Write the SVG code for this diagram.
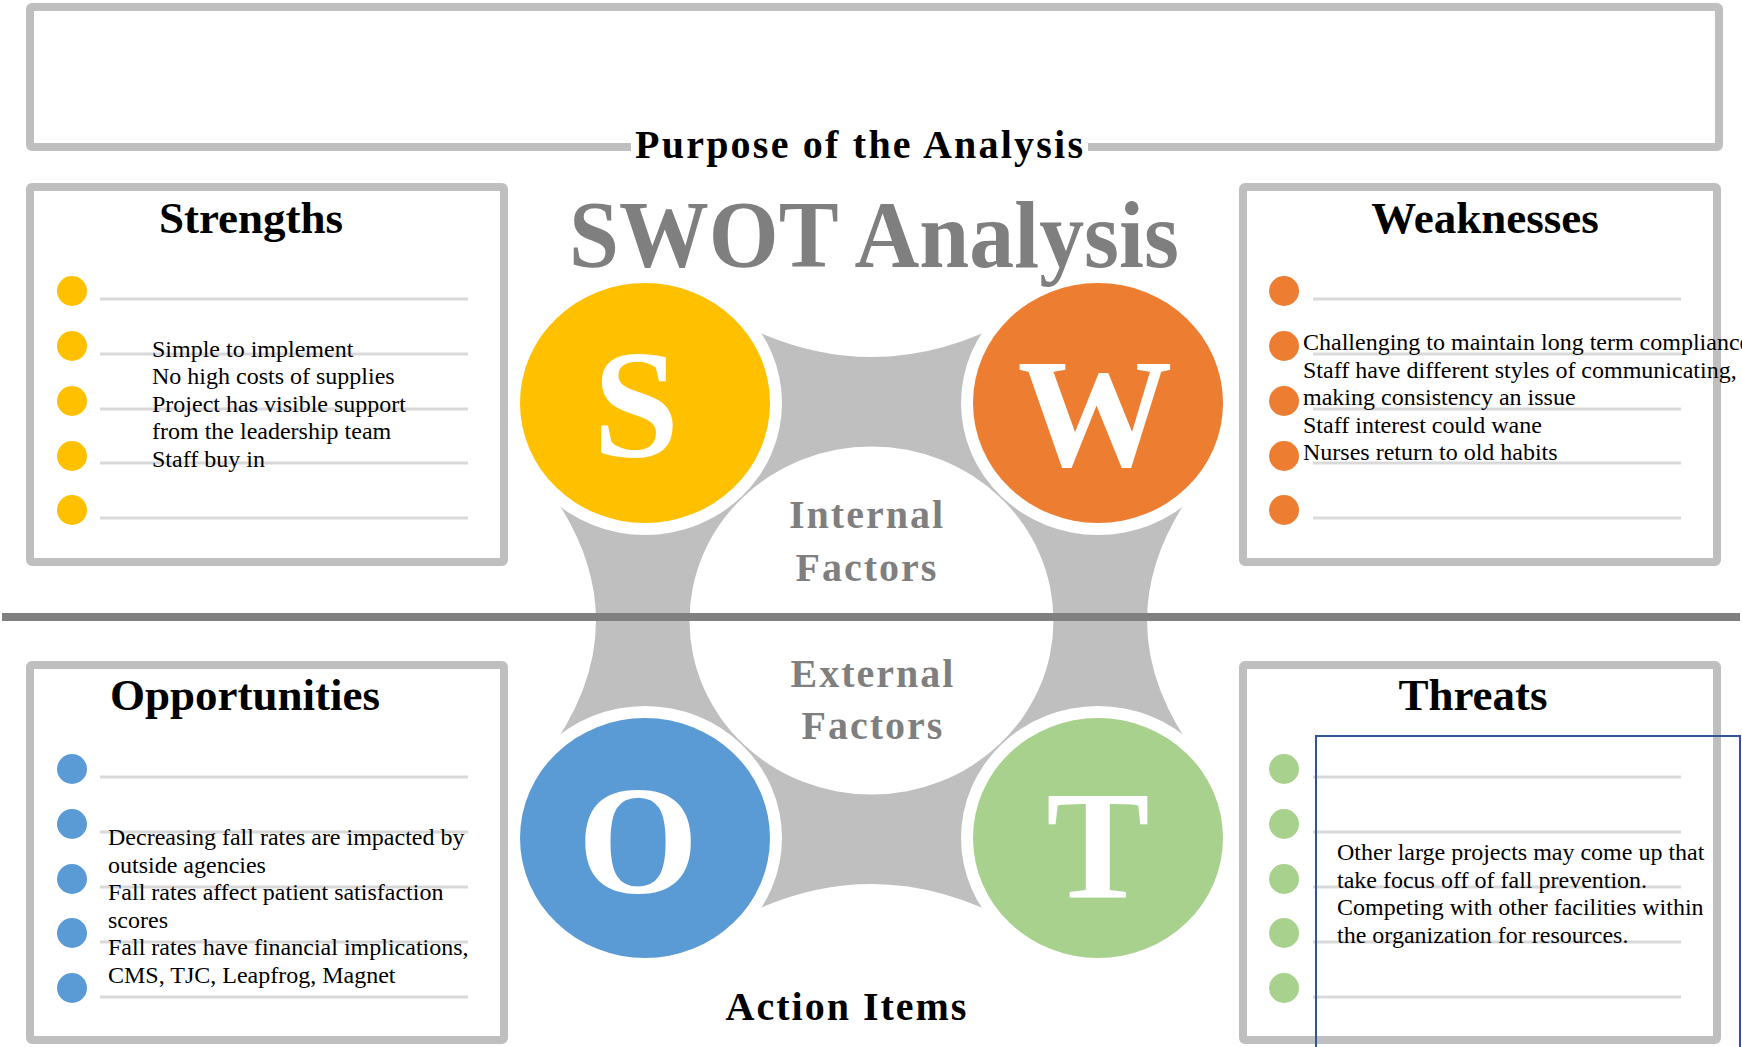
<svg xmlns="http://www.w3.org/2000/svg" width="1742" height="1047" viewBox="0 0 1742 1047">
  <style>
    .frame { fill: #ffffff; stroke: #bfbfbf; stroke-width: 8; }
    .rule { stroke: #d9d9d9; stroke-width: 3; }
    .head { font-family: "Liberation Serif", "Times New Roman", serif; font-weight: bold; font-size: 45px; fill: #000000; text-anchor: middle; }
    .label { font-family: "Liberation Serif", "Times New Roman", serif; font-weight: bold; font-size: 40px; fill: #000000; text-anchor: middle; letter-spacing: 2px; }
    .factor { font-family: "Liberation Serif", "Times New Roman", serif; font-weight: bold; font-size: 40px; fill: #7f7f7f; text-anchor: middle; letter-spacing: 2px; }
    .body { font-family: "Liberation Serif", "Times New Roman", serif; font-size: 24px; fill: #000000; }
    .letter { font-family: "Liberation Serif", "Times New Roman", serif; font-weight: bold; font-size: 155px; fill: #ffffff; text-anchor: middle; }
    .ring { fill: #ffffff; }
    .s { fill: #ffc000; }
    .w { fill: #ed7d31; }
    .o { fill: #5b9bd5; }
    .t { fill: #a9d18e; }
  </style>

  <rect width="1742" height="1047" fill="#ffffff"/>

  <!-- Purpose box -->
  <g id="purpose">
    <rect class="frame" x="30" y="7" width="1689" height="140" rx="2"/>
    <rect x="631" y="126" width="457" height="44" fill="#ffffff"/>
    <text class="label" x="860" y="158" textLength="450" lengthAdjust="spacing">Purpose of the Analysis</text>
  </g>

  <!-- Strengths -->
  <g id="strengths">
    <rect class="frame" x="30" y="187" width="474" height="375" rx="2"/>
    <text class="head" x="251" y="233">Strengths</text>
    <g class="s">
      <circle cx="72" cy="291" r="15"/>
      <circle cx="72" cy="346" r="15"/>
      <circle cx="72" cy="401" r="15"/>
      <circle cx="72" cy="456" r="15"/>
      <circle cx="72" cy="510" r="15"/>
    </g>
    <g class="rule">
      <line x1="100" y1="299" x2="468" y2="299"/>
      <line x1="100" y1="354" x2="468" y2="354"/>
      <line x1="100" y1="409" x2="468" y2="409"/>
      <line x1="100" y1="463" x2="468" y2="463"/>
      <line x1="100" y1="518" x2="468" y2="518"/>
    </g>
    <text class="body">
      <tspan x="152" y="357">Simple to implement</tspan>
      <tspan x="152" y="384">No high costs of supplies</tspan>
      <tspan x="152" y="411.5">Project has visible support</tspan>
      <tspan x="152" y="439">from the leadership team</tspan>
      <tspan x="152" y="466.5">Staff buy in</tspan>
    </text>
  </g>

  <!-- Weaknesses -->
  <g id="weaknesses">
    <rect class="frame" x="1243" y="187" width="474" height="375" rx="2"/>
    <text class="head" x="1485" y="233">Weaknesses</text>
    <g class="w">
      <circle cx="1284" cy="291" r="15"/>
      <circle cx="1284" cy="346" r="15"/>
      <circle cx="1284" cy="401" r="15"/>
      <circle cx="1284" cy="456" r="15"/>
      <circle cx="1284" cy="510" r="15"/>
    </g>
    <g class="rule">
      <line x1="1313" y1="299" x2="1681" y2="299"/>
      <line x1="1313" y1="354" x2="1681" y2="354"/>
      <line x1="1313" y1="409" x2="1681" y2="409"/>
      <line x1="1313" y1="463" x2="1681" y2="463"/>
      <line x1="1313" y1="518" x2="1681" y2="518"/>
    </g>
    <text class="body">
      <tspan x="1303" y="350">Challenging to maintain long term compliance</tspan>
      <tspan x="1303" y="378">Staff have different styles of communicating,</tspan>
      <tspan x="1303" y="405">making consistency an issue</tspan>
      <tspan x="1303" y="433">Staff interest could wane</tspan>
      <tspan x="1303" y="460">Nurses return to old habits</tspan>
    </text>
  </g>

  <!-- Opportunities -->
  <g id="opportunities">
    <rect class="frame" x="30" y="665" width="474" height="375" rx="2"/>
    <text class="head" x="245" y="710">Opportunities</text>
    <g class="o">
      <circle cx="72" cy="769" r="15"/>
      <circle cx="72" cy="824" r="15"/>
      <circle cx="72" cy="879" r="15"/>
      <circle cx="72" cy="933" r="15"/>
      <circle cx="72" cy="988" r="15"/>
    </g>
    <g class="rule">
      <line x1="100" y1="777" x2="468" y2="777"/>
      <line x1="100" y1="832" x2="468" y2="832"/>
      <line x1="100" y1="887" x2="468" y2="887"/>
      <line x1="100" y1="942" x2="468" y2="942"/>
      <line x1="100" y1="997" x2="468" y2="997"/>
    </g>
    <text class="body">
      <tspan x="108" y="845">Decreasing fall rates are impacted by</tspan>
      <tspan x="108" y="872.5">outside agencies</tspan>
      <tspan x="108" y="900">Fall rates affect patient satisfaction</tspan>
      <tspan x="108" y="927.5">scores</tspan>
      <tspan x="108" y="955">Fall rates have financial implications,</tspan>
      <tspan x="108" y="982.5">CMS, TJC, Leapfrog, Magnet</tspan>
    </text>
  </g>

  <!-- Threats -->
  <g id="threats">
    <rect class="frame" x="1243" y="665" width="474" height="375" rx="2"/>
    <text class="head" x="1473" y="710">Threats</text>
    <g class="t">
      <circle cx="1284" cy="769" r="15"/>
      <circle cx="1284" cy="824" r="15"/>
      <circle cx="1284" cy="879" r="15"/>
      <circle cx="1284" cy="933" r="15"/>
      <circle cx="1284" cy="988" r="15"/>
    </g>
    <g class="rule">
      <line x1="1313" y1="777" x2="1681" y2="777"/>
      <line x1="1313" y1="832" x2="1681" y2="832"/>
      <line x1="1313" y1="887" x2="1681" y2="887"/>
      <line x1="1313" y1="942" x2="1681" y2="942"/>
      <line x1="1313" y1="997" x2="1681" y2="997"/>
    </g>
    <text class="body">
      <tspan x="1337" y="860">Other large projects may come up that</tspan>
      <tspan x="1337" y="887.5">take focus off of fall prevention.</tspan>
      <tspan x="1337" y="915">Competing with other facilities within</tspan>
      <tspan x="1337" y="942.5">the organization for resources.</tspan>
    </text>
    <rect x="1316" y="736" width="424" height="400" fill="none" stroke="#2f5597" stroke-width="2"/>
  </g>

  <!-- Grey connecting band between the four quadrant circles -->
  <g id="connectors">
    <path d="M700,300 Q871.5,414 1043,300 L1201,480 Q1093,620.5 1201,761 L1043,941 Q871.5,827 700,941 L542,761 Q650,620.5 542,480 Z" fill="#bfbfbf"/>
    <ellipse cx="871.5" cy="620.5" rx="182" ry="174" fill="#ffffff"/>
  </g>

  <g id="factors">
    <text class="factor" x="867" y="528">Internal</text>
    <text class="factor" x="867" y="581">Factors</text>
    <text class="factor" x="873" y="687">External</text>
    <text class="factor" x="873" y="739">Factors</text>
  </g>

  <!-- Quadrant circles -->
  <g id="node-s">
    <ellipse class="ring" cx="645" cy="403" rx="137" ry="132"/>
    <ellipse class="s" cx="645" cy="403" rx="125" ry="120"/>
    <text class="letter" x="636" y="456">S</text>
  </g>
  <g id="node-w">
    <ellipse class="ring" cx="1098" cy="403" rx="137" ry="132"/>
    <ellipse class="w" cx="1098" cy="403" rx="125" ry="120"/>
    <text class="letter" x="1095" y="466">W</text>
  </g>
  <g id="node-o">
    <ellipse class="ring" cx="645" cy="838" rx="137" ry="132"/>
    <ellipse class="o" cx="645" cy="838" rx="125" ry="120"/>
    <text class="letter" x="638" y="892">O</text>
  </g>
  <g id="node-t">
    <ellipse class="ring" cx="1098" cy="838" rx="137" ry="132"/>
    <ellipse class="t" cx="1098" cy="838" rx="125" ry="120"/>
    <text class="letter" x="1098" y="897">T</text>
  </g>

  <!-- Title, drawn above the circles so its descender stays visible -->
  <g id="title">
    <text x="874" y="267" font-family="'Liberation Serif', 'Times New Roman', serif" font-weight="bold" font-size="96" fill="#7f7f7f" text-anchor="middle" textLength="610" lengthAdjust="spacingAndGlyphs">SWOT Analysis</text>
  </g>

  <!-- Internal / external divider -->
  <line id="divider" x1="2" y1="617" x2="1740" y2="617" stroke="#808080" stroke-width="8"/>

  <g id="action-items">
    <text class="label" x="847" y="1020">Action Items</text>
  </g>
</svg>
